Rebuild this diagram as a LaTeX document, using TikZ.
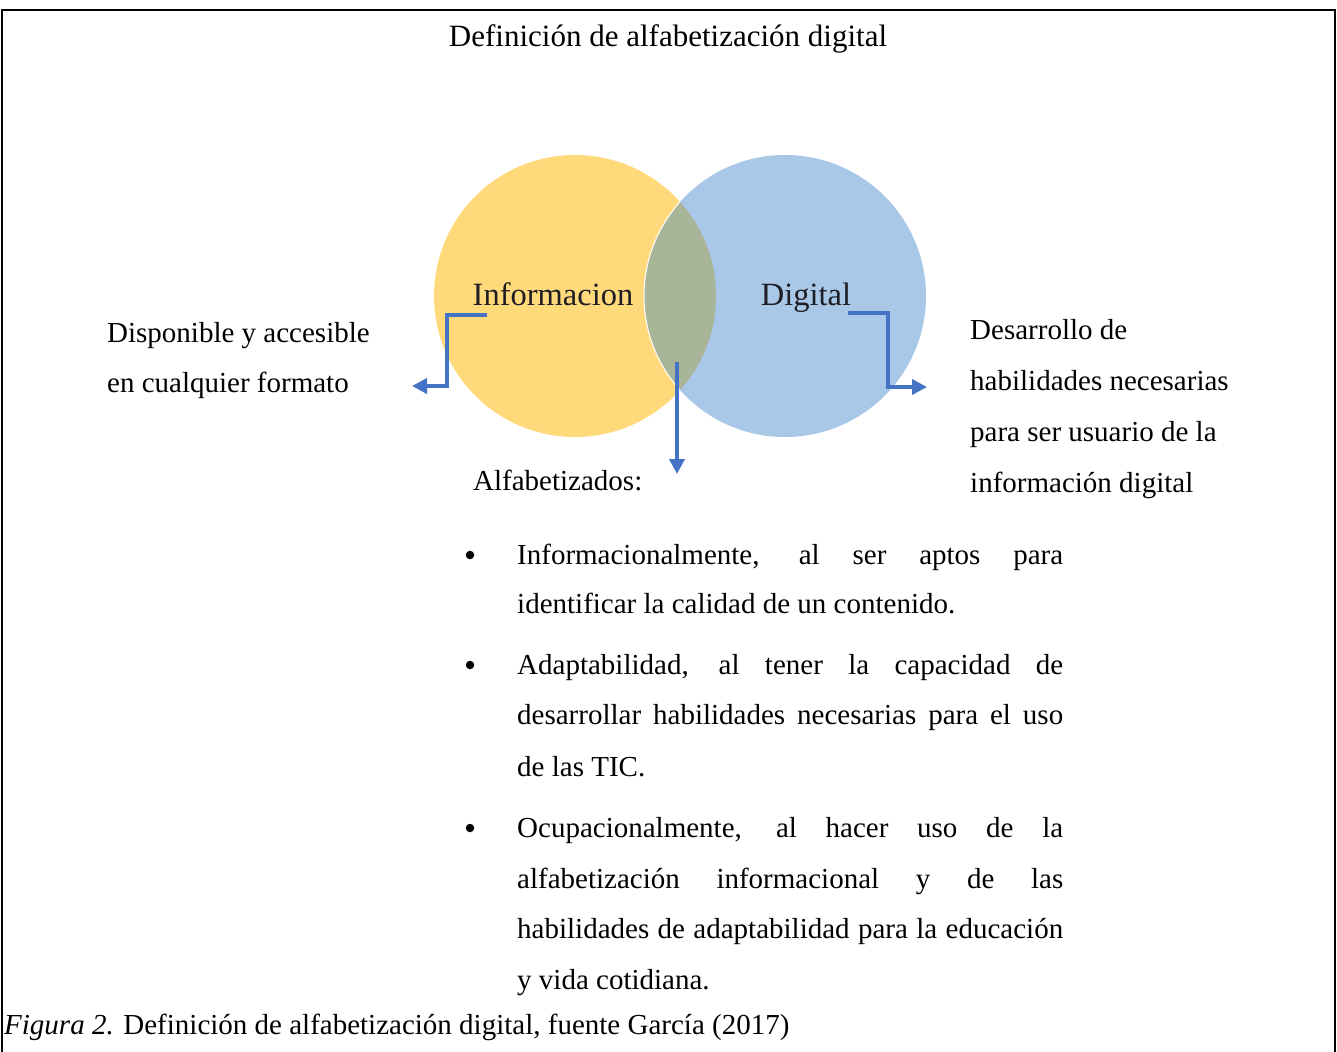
\documentclass[tikz,border=0pt]{standalone}
\usepackage{fontspec}
\setmainfont{Liberation Serif}
\usetikzlibrary{arrows.meta}
\definecolor{venny}{HTML}{FFD97A}
\definecolor{vennb}{HTML}{A9C8E8}
\definecolor{venno}{HTML}{A8B598}
\definecolor{arrowblue}{HTML}{4472C4}
\definecolor{labelink}{HTML}{1E1E24}
\begin{document}
\begin{tikzpicture}[x=1pt,y=-1pt,
  body/.style={font=\fontsize{29}{50}\selectfont, inner sep=0pt, anchor=base west},
  vlabel/.style={font=\fontsize{32.5}{34}\selectfont, text=labelink, inner sep=0pt, anchor=base},
  dot/.style={circle, fill=black, inner sep=0pt, minimum size=8.5pt},
  conn/.style={draw=arrowblue, line width=3.6pt, -{Triangle[length=15pt,width=15pt]}}]
\useasboundingbox (0,0) rectangle (1337,1051);
\draw[line width=1.8pt] (2,1052) -- (2,10) -- (1335,10) -- (1335,1052);
% title
\node[font=\fontsize{31}{36}\selectfont, inner sep=0pt, anchor=base] (title) at (668,47) {Definición de alfabetización digital};
% venn
\fill[venny] (575,296) circle (141pt);
\fill[vennb] (785,296) circle (141pt);
\begin{scope}
  \clip (575,296) circle (141pt);
  \fill[venno] (785,296) circle (141pt);
  \draw[white, line width=1pt] (785,296) circle (141pt);
\end{scope}
\node[vlabel] (info) at (553,305) {Informacion};
\node[vlabel] (dig) at (806,305) {Digital};
% arrows
\coordinate (la0) at (487,315); \coordinate (la1) at (412,386);
\coordinate (ra0) at (848,313); \coordinate (ra1) at (927,387);
\coordinate (ma0) at (677,362); \coordinate (ma1) at (677,474);
\draw[conn] (la0) -- (447,315) -- (447,386) -- (la1);
\draw[conn] (ra0) -- (888,313) -- (888,387) -- (ra1);
\draw[conn] (ma0) -- (ma1);
% side texts
\node[body] (left1) at (107,342) {Disponible y accesible};
\node[body] (left2) at (107,392) {en cualquier formato};
\node[body] (right1) at (970,339) {Desarrollo de};
\node[body] (right2) at (970,390) {habilidades necesarias};
\node[body] (right3) at (970,441) {para ser usuario de la};
\node[body] (right4) at (970,492) {información digital};
\node[body] (alfa) at (473,490) {Alfabetizados:};
% bullets
\node[dot] (bu1) at (470,555) {};
\node[dot] (bu2) at (470,665) {};
\node[dot] (bu3) at (470,828) {};
\node[body] (t1) at (517,564) {\makebox[546pt][s]{Informacionalmente, al ser aptos para}};
\node[body] (t2) at (517,613) {identificar la calidad de un contenido.};
\node[body] (t3) at (517,674) {\makebox[546pt][s]{Adaptabilidad, al tener la capacidad de}};
\node[body] (t4) at (517,724) {\makebox[546pt][s]{desarrollar habilidades necesarias para el uso}};
\node[body] (t5) at (517,776) {de las TIC.};
\node[body] (t6) at (517,837) {\makebox[546pt][s]{Ocupacionalmente, al hacer uso de la}};
\node[body] (t7) at (517,888) {\makebox[546pt][s]{alfabetización informacional y de las}};
\node[body] (t8) at (517,938) {\makebox[546pt][s]{habilidades de adaptabilidad para la educación}};
\node[body] (t9) at (517,989) {y vida cotidiana.};
% caption
\node[body] (cap) at (4,1034) {\textit{Figura 2.} Definición de alfabetización digital, fuente García (2017)};
\end{tikzpicture}
\end{document}
